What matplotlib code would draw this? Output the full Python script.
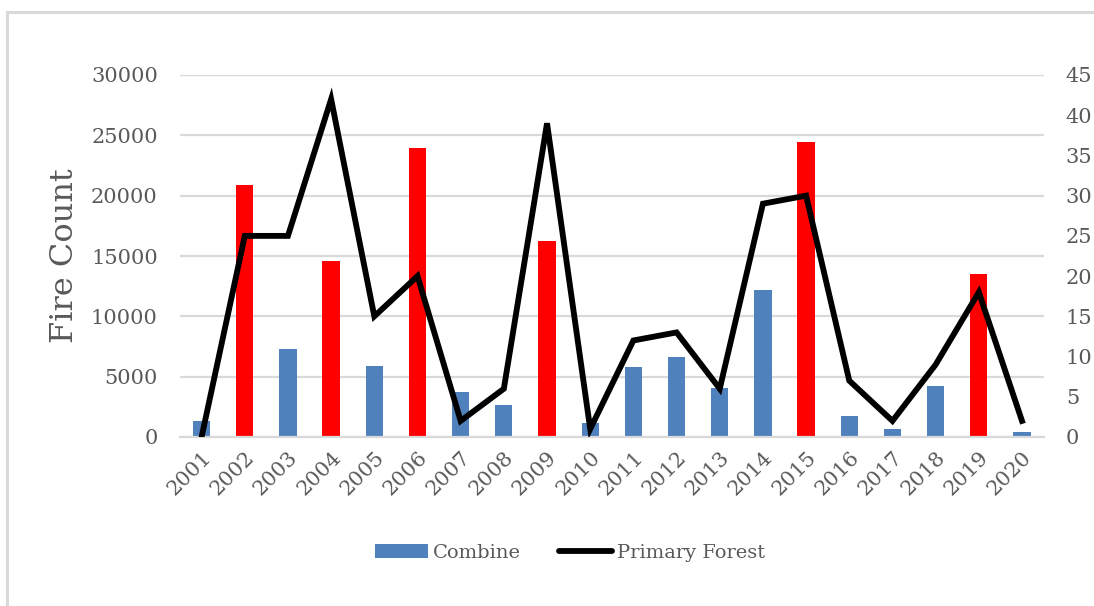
import matplotlib
matplotlib.use("Agg")
import matplotlib.pyplot as plt
from matplotlib.patches import Patch, Rectangle
from matplotlib.lines import Line2D

years = ["2001", "2002", "2003", "2004", "2005", "2006", "2007", "2008", "2009", "2010",
         "2011", "2012", "2013", "2014", "2015", "2016", "2017", "2018", "2019", "2020"]
combine = [1350, 20900, 7300, 14580, 5880, 23940, 3730, 2650, 16240, 1160,
           5800, 6630, 4060, 12180, 24440, 1765, 690, 4250, 13500, 390]
primary_forest = [0, 25, 25, 42, 15, 20, 2, 6, 39, 1,
                  12, 13, 6, 29, 30, 7, 2, 9, 18, 2]
highlight_years = ["2002", "2004", "2006", "2009", "2015", "2019"]

BLUE = "#4F81BD"
RED = "#FF0000"
TEXT = "#595959"
GRID = "#D9D9D9"
TICK_SIZE = 15

plt.rcParams["font.family"] = ["DejaVu Serif"]

fig = plt.figure(figsize=(10.94, 6.06), dpi=100)
fig.patches.append(Rectangle((7 / 1094, -0.05), 1.2, 1 - 12 / 606 + 0.05,
                             transform=fig.transFigure, fill=False,
                             edgecolor=GRID, linewidth=2.2, zorder=0))

ax = fig.add_axes([180 / 1094, 1 - 437 / 606, (1043.6 - 180) / 1094, (437 - 75) / 606])
x = list(range(len(years)))
colors = [RED if y in highlight_years else BLUE for y in years]
ax.bar(x, combine, width=0.4, color=colors, zorder=2)
ax.set_xlim(-0.5, len(years) - 0.5)
ax.set_ylim(0, 30000)
ax.set_yticks(range(0, 30001, 5000))
ax.yaxis.grid(True, color=GRID, linewidth=1.6, zorder=0)
ax.set_axisbelow(True)
for s in ["top", "right", "left"]:
    ax.spines[s].set_visible(False)
ax.spines["bottom"].set_color(GRID)
ax.spines["bottom"].set_linewidth(1.6)
ax.set_xticks(x)
ax.set_xticklabels(years, rotation=45, ha="right", rotation_mode="anchor")
ax.tick_params(axis="x", length=0, pad=8, labelsize=TICK_SIZE, labelcolor=TEXT)
ax.tick_params(axis="y", length=0, pad=16, labelsize=TICK_SIZE, labelcolor=TEXT)
ax.set_ylabel("Fire Count", fontsize=23, color=TEXT, labelpad=8)

ax2 = ax.twinx()
ax2.plot(x, primary_forest, color="black", linewidth=4.2, solid_joinstyle="miter", zorder=3)
ax2.set_ylim(0, 45)
ax2.set_yticks(range(0, 46, 5))
for s in ax2.spines.values():
    s.set_visible(False)
ax2.tick_params(axis="y", length=0, pad=16, labelsize=TICK_SIZE, labelcolor=TEXT)

handles = [Patch(facecolor=BLUE, edgecolor="none"),
           Line2D([0], [0], color="black", linewidth=4.2, solid_capstyle="round")]
fig.legend(handles, ["Combine", "Primary Forest"], loc="center",
           bbox_to_anchor=(570 / 1094, 1 - 553 / 606), ncol=2, frameon=False,
           fontsize=14, labelcolor=TEXT, handlelength=2.7, handleheight=0.75,
           columnspacing=2.0, handletextpad=0.25)

fig.savefig("out.png", dpi=100)
